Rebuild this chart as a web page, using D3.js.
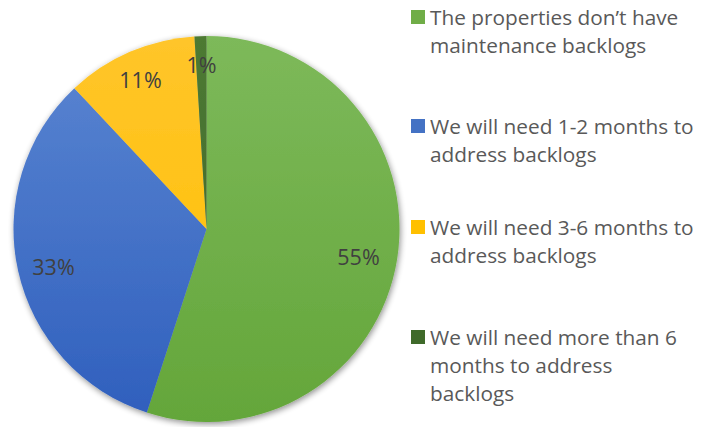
<!DOCTYPE html>
<html><head><meta charset="utf-8">
<script src="https://cdn.jsdelivr.net/npm/d3@7"></script>
<style>body{margin:0;background:#fff;}svg{display:block;}</style>
</head><body>
<svg id="c" width="706" height="427"></svg>
<script>
const categories = [
  "The properties don\u2019t have maintenance backlogs",
  "We will need 1-2 months to address backlogs",
  "We will need 3-6 months to address backlogs",
  "We will need more than 6 months to address backlogs"
];
const values = [55, 33, 11, 1];
const labels = ["55%", "33%", "11%", "1%"];
const legendLines = [
  ["The properties don\u2019t have", "maintenance backlogs"],
  ["We will need 1-2 months to", "address backlogs"],
  ["We will need 3-6 months to", "address backlogs"],
  ["We will need more than 6", "months to address", "backlogs"]
];
const colorsTop = ["#7db95a", "#5b86d2", "#ffc52a", "#4d7a33"];
const colorsBot = ["#64a63a", "#2f5fbd", "#ffc000", "#3d6327"];
const legendColors = ["#70ad47", "#4472c4", "#ffc000", "#3f6a2a"];

const svg = d3.select("#c");
const defs = svg.append("defs");
const f = defs.append("filter").attr("id","sh").attr("x","-10%").attr("y","-10%").attr("width","120%").attr("height","120%");
f.append("feGaussianBlur").attr("in","SourceAlpha").attr("stdDeviation",3).attr("result","b");
f.append("feOffset").attr("in","b").attr("dx",1).attr("dy",2).attr("result","o");
f.append("feComponentTransfer").attr("in","o").attr("result","o2").append("feFuncA").attr("type","linear").attr("slope",0.45);
const m = f.append("feMerge"); m.append("feMergeNode").attr("in","o2"); m.append("feMergeNode").attr("in","SourceGraphic");

const cx = 206.5, cy = 229, R = 193;
categories.forEach((c,i)=>{
  const g = defs.append("linearGradient").attr("id","g"+i)
    .attr("gradientUnits","userSpaceOnUse").attr("x1",0).attr("x2",0).attr("y1",-R).attr("y2",R);
  g.append("stop").attr("offset","0").attr("stop-color",colorsTop[i]);
  g.append("stop").attr("offset","1").attr("stop-color",colorsBot[i]);
});

const pie = d3.pie().sort(null).value(d=>d)(values);
const arc = d3.arc().innerRadius(0).outerRadius(R);
const gp = svg.append("g").attr("transform",`translate(${cx},${cy})`);
gp.append("g").attr("filter","url(#sh)").selectAll("path").data(pie).join("path")
  .attr("d",arc).attr("fill",(d,i)=>`url(#g${i})`);

const labelPos = [[152,27],[-153,37],[-66,-150],[-5,-165]];
gp.selectAll("text.l").data(pie).join("text").attr("class","l")
  .attr("x",(d,i)=>labelPos[i][0]).attr("y",(d,i)=>labelPos[i][1])
  .attr("text-anchor","middle").attr("dominant-baseline","central")
  .attr("font-family","'Open Sans', sans-serif").attr("font-size",21.5).attr("fill","#404040")
  .text((d,i)=>labels[i]);

const legY = [18, 127, 228, 338];
const lg = svg.append("g");
legendLines.forEach((lines,i)=>{
  lg.append("rect").attr("x",411).attr("y",legY[i]-8).attr("width",14).attr("height",14).attr("fill",legendColors[i]);
  const t = lg.append("text").attr("font-family","'Open Sans', sans-serif").attr("font-size",20.8).attr("fill","#595959");
  lines.forEach((ln,j)=>{
    t.append("tspan").attr("x",430).attr("y",legY[i]+j*28).attr("dy","0.35em").text(ln);
  });
});
</script>
</body></html>
